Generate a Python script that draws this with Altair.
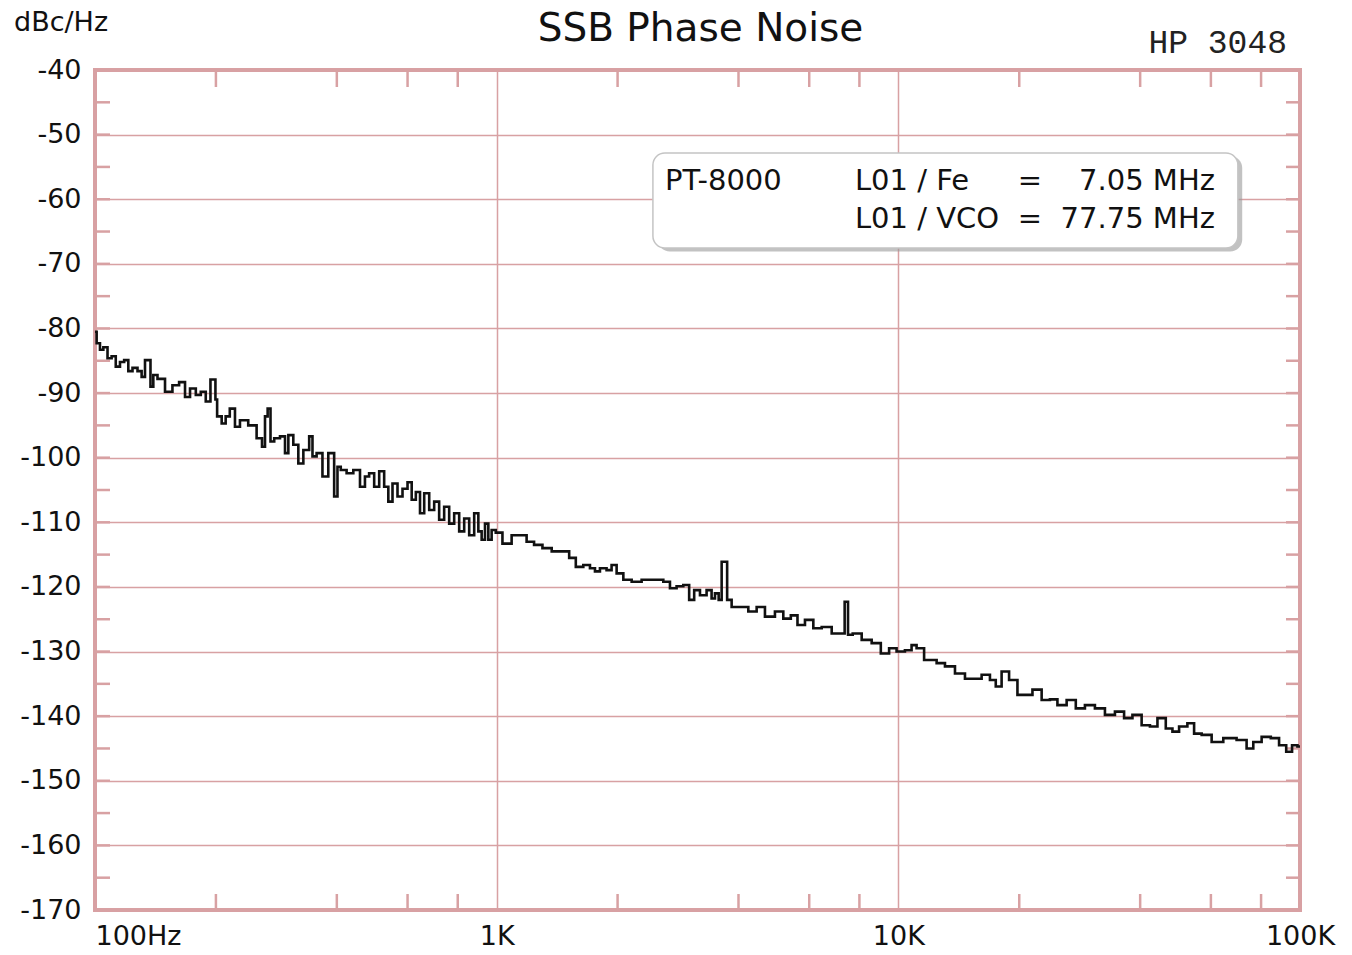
import altair as alt
import pandas as pd

# ---------------- data ----------------
trace_low = [
    (100, -80.5), (101.9, -82.3), (103.9, -83.3), (105.9, -82.9), (109, -84.6), (111, -84.3),
    (114.3, -85.9), (116.5, -85.2), (119.9, -84.9), (122.2, -86.6), (125.8, -86.1), (129.4, -86.6),
    (131.9, -87.5), (134.5, -84.9), (136.5, -84.9), (138.4, -89.0), (141, -87.2), (145.2, -87.8),
    (153.7, -89.8), (158.1, -88.8), (165.9, -88.3), (169.2, -90.6), (175.7, -89.3), (180.8, -90.3),
    (186.0, -89.8), (191.4, -91.3), (196.3, -87.9), (198.9, -87.9), (200, -91.0), (202.8, -93.6),
    (210.7, -94.7), (212.3, -93.6), (220.9, -92.4), (225.3, -95.2), (233.9, -94.2), (247.7, -95.0),
    (257.5, -97.0), (263.5, -98.3), (266.5, -93.6), (271.6, -92.4), (275.4, -97.5), (283.4, -97.0),
    (294.3, -96.7), (300.1, -99.3), (305.8, -96.5), (317.7, -98.0), (323.9, -100.9), (336.5, -98.8),
    (346.3, -96.7), (349.5, -99.8), (363.1, -99.3), (373.7, -102.9), (388.2, -99.3), (399.7, -106.0),
    (403.3, -101.4), (415, -101.9), (431.3, -102.4), (448.2, -101.9), (465.6, -104.5), (474.4, -102.9),
    (488.4, -102.4), (502.7, -104.5), (517.3, -102.1), (532.2, -104.5), (542.6, -106.8), (558.3, -104.0),
    (574.6, -106.0), (591.3, -104.8), (608.6, -103.8), (620.2, -106.5), (638.2, -105.3), (650.7, -108.6),
    (669.6, -105.5), (689.1, -108.1), (708.9, -106.8), (729.5, -109.6), (750.8, -107.6), (772.7, -110.2),
    (795.1, -108.6), (818.3, -111.4), (842.1, -109.4), (866.6, -112.0), (891.8, -108.6), (908.8, -111.4),
    (926.3, -112.7), (944.3, -110.2), (962.5, -112.7), (980.8, -111.2),
]
trace_mid = [
    (1009, -111.6), (1059, -113.3), (1121, -112.0), (1165, -112.0), (1210, -113.0), (1269, -113.5),
    (1332, -114.0), (1411, -114.5), (1494, -114.5), (1537, -115.5), (1612, -116.9), (1675, -116.6),
    (1740, -117.1), (1774, -117.6), (1842, -117.1), (1914, -117.4), (1951, -116.6), (2028, -117.9),
    (2107, -118.9), (2231, -119.2), (2362, -118.9), (2550, -118.9), (2650, -119.2), (2752, -120.2),
    (2859, -119.9), (2972, -119.7), (3058, -122.0), (3148, -120.5), (3268, -121.3), (3396, -120.5),
    (3461, -121.8), (3530, -121.0), (3611, -122.0), (3653, -116.1), (3723, -116.1), (3773, -122.0),
    (3920, -123.1), (4112, -123.1), (4355, -123.8), (4524, -123.1), (4790, -124.6), (5073, -123.8),
    (5272, -124.9), (5530, -124.4), (5690, -125.9), (6026, -125.1), (6262, -126.4), (6632, -126.2),
    (7023, -127.2), (7323, -127.2), (7379, -122.3), (7465, -122.3), (7524, -127.4), (7876, -127.2),
    (8341, -128.2), (8831, -128.7), (9263, -130.3), (9712, -129.5),
]
trace_high = [
    (10092, -130.0), (10688, -129.8), (10890, -129.0), (11320, -129.5), (11870, -131.3), (12220, -131.3),
    (12695, -131.8), (13446, -132.3), (14238, -133.4), (15078, -134.2), (15665, -134.2), (16589, -133.6),
    (17232, -134.4), (17733, -135.4), (18427, -133.1), (19320, -134.4), (20280, -136.7), (21060, -136.7),
    (22100, -135.9), (23400, -137.5), (24300, -137.4), (25500, -138.3), (27010, -137.5), (28320, -138.8),
    (29990, -138.3), (31760, -138.8), (33640, -139.8), (35620, -139.3), (37360, -140.3), (39200, -139.8),
    (41510, -141.4), (43120, -141.6), (45240, -140.3), (47440, -141.9), (48830, -142.4), (51200, -141.6),
    (53700, -141.1), (55300, -142.7), (58560, -142.9), (62010, -144.0), (66920, -143.4), (72230, -143.7),
    (75060, -145.0), (77980, -144.0), (82600, -143.2), (86620, -143.4), (90820, -144.5), (94000, -145.5),
    (97120, -144.5), (100000, -144.7),
]

x_major = [100, 1000, 10000, 100000]
x_minor = [200, 400, 600, 800, 2000, 4000, 6000, 8000, 20000, 40000, 60000, 80000]
y_major = [-40, -50, -60, -70, -80, -90, -100, -110, -120, -130, -140, -150, -160, -170]
y_minor = [-45, -50, -55, -60, -65, -70, -75, -80, -85, -90, -95, -100, -105, -110, -115,
           -120, -125, -130, -135, -140, -145, -150, -155, -160, -165]

box = {"freq": 2449, "freq2": 70040, "db": -52.85, "db2": -67.55}
shadow_box = {"freq": 2520, "freq2": 71800, "db": -53.3, "db2": -68.1}
box_names = ["PT-8000"]
box_left = ["L01 / Fe", "L01 / VCO"]
box_eq = ["=", "="]
box_right = ["7.05 MHz", "77.75 MHz"]
box_rows_db = [-57.2, -63.1]
title_text = "SSB Phase Noise"
unit_text = "dBc/Hz"
instrument_text = "HP 3048"

# ---------------- chart ----------------
W, H = 1205, 840
PINK = "#d8a1a3"
FONT = "DejaVu Sans"

trace = pd.DataFrame(trace_low + trace_mid + trace_high, columns=["freq", "db"])

X_AX = alt.Axis(values=x_major, grid=True, gridColor=PINK, gridWidth=1.5, gridOpacity=1,
                ticks=False, domain=False, title=None, labelFont=FONT, labelFontSize=27,
                labelColor="#111", labelPadding=13, labelBaseline="top", labelOverlap=False,
                labelAlign={"condition": {"test": "datum.value == 100", "value": "left"}, "value": "center"},
                labelExpr="datum.value == 100 ? '100Hz' : datum.value == 1000 ? '1K' : datum.value == 10000 ? '10K' : '100K'")
Y_AX = alt.Axis(values=y_major, grid=True, gridColor=PINK, gridWidth=1.5, gridOpacity=1,
                ticks=False, domain=False, title=None, labelFont=FONT, labelFontSize=27,
                labelColor="#111", labelPadding=14, labelOverlap=False,
                labelExpr="'-' + abs(datum.value)")
XS = alt.Scale(type="log", domain=[100, 100000], nice=False)
YS = alt.Scale(domain=[-170, -40], nice=False, zero=False)


def X(f="freq"):
    return alt.X(f"{f}:Q", scale=XS, axis=X_AX)


def Y(f="db"):
    return alt.Y(f"{f}:Q", scale=YS, axis=Y_AX)


ydf = pd.DataFrame({"db": y_minor})
xdf = pd.DataFrame({"freq": x_minor})

left_ticks = alt.Chart(ydf).mark_rule(color=PINK, strokeWidth=2.5).encode(y=Y(), x=alt.value(0), x2=alt.value(15))
right_ticks = alt.Chart(ydf).mark_rule(color=PINK, strokeWidth=2.5).encode(y=Y(), x=alt.value(W - 14), x2=alt.value(W))
bottom_ticks = alt.Chart(xdf).mark_rule(color=PINK, strokeWidth=2.5).encode(x=X(), y=alt.value(H - 16), y2=alt.value(H))
top_ticks = alt.Chart(xdf).mark_rule(color=PINK, strokeWidth=2.5).encode(x=X(), y=alt.value(0), y2=alt.value(17))

line = alt.Chart(trace).mark_line(color="#111", strokeWidth=2.6, interpolate="step",
                                  strokeJoin="miter").encode(x=X(), y=Y())

shadow = alt.Chart(pd.DataFrame([shadow_box])).mark_rect(fill="#9a9a9a", opacity=0.6, cornerRadius=12).encode(
    x=X(), x2="freq2", y=Y(), y2="db2")
panel = alt.Chart(pd.DataFrame([box])).mark_rect(fill="white", stroke="#c4c4c4", strokeWidth=1.5, cornerRadius=12).encode(
    x=X(), x2="freq2", y=Y(), y2="db2")

name_df = pd.DataFrame({"freq": [2624], "db": [box_rows_db[0]], "t": box_names})
left_df = pd.DataFrame({"freq": [7798, 7798], "db": box_rows_db, "t": box_left})
eq_df = pd.DataFrame({"freq": [21270, 21270], "db": box_rows_db, "t": box_eq})
right_df = pd.DataFrame({"freq": [61400, 61400], "db": box_rows_db, "t": box_right})


def box_text(df, align):
    return alt.Chart(df).mark_text(font=FONT, fontSize=29, color="#111", align=align, baseline="middle").encode(
        x=X(), y=Y(), text="t:N")


title = alt.Chart(pd.DataFrame({"t": [title_text]})).mark_text(
    font=FONT, fontSize=39, color="#111", align="center", baseline="alphabetic").encode(
    x=alt.value(W / 2 + 3), y=alt.value(-29), text="t:N")
unit = alt.Chart(pd.DataFrame({"t": [unit_text]})).mark_text(
    font=FONT, fontSize=27, color="#111", align="left", baseline="alphabetic").encode(
    x=alt.value(-81), y=alt.value(-39), text="t:N")
instr = alt.Chart(pd.DataFrame({"t": [instrument_text]})).mark_text(
    font="Liberation Mono", fontSize=33, color="#222", align="right", baseline="alphabetic").encode(
    x=alt.value(1192), y=alt.value(-17), text="t:N")

chart = alt.layer(
    left_ticks, right_ticks, bottom_ticks, top_ticks, line, shadow, panel,
    box_text(name_df, "left"), box_text(left_df, "left"), box_text(eq_df, "center"), box_text(right_df, "right"),
    title, unit, instr,
).properties(
    width=W, height=H,
    autosize=alt.AutoSizeParams(type="none"),
    padding={"left": 95, "top": 70, "right": 52, "bottom": 45},
    background="white",
).configure_view(stroke=PINK, strokeWidth=4)

chart.save("out.html", embed_options={"renderer": "svg", "actions": False})
